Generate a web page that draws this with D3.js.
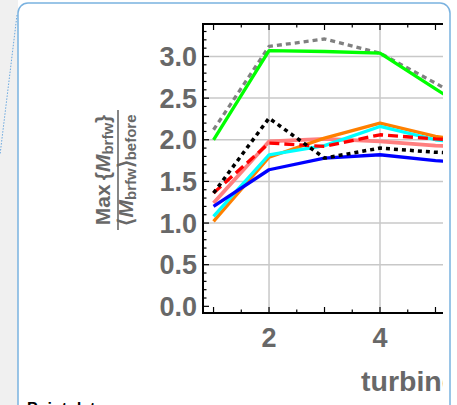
<!DOCTYPE html>
<html><head><meta charset="utf-8">
<script src="https://cdn.jsdelivr.net/npm/d3@7"></script>
<style>body{margin:0;background:#fff;overflow:hidden}</style>
</head><body>
<script>
const xValues = [1, 2, 3, 4, 5, 6];
const grayDotted = [2.12, 3.12, 3.21, 3.04, 2.68, 2.30];
const green = [2.00, 3.07, 3.06, 3.04, 2.61, 2.20];
const pink = [1.24, 1.98, 2.01, 1.98, 1.93, 1.90];
const orange = [1.02, 1.79, 2.02, 2.20, 2.04, 1.95];
const cyan = [1.08, 1.82, 1.93, 2.16, 2.00, 1.92];
const blue = [1.20, 1.64, 1.78, 1.82, 1.75, 1.70];
const redDashed = [1.36, 1.96, 1.92, 2.06, 2.01, 1.98];
const blackDotted = [1.36, 2.26, 1.78, 1.90, 1.85, 1.82];
const yTickLabels = ["0.0", "0.5", "1.0", "1.5", "2.0", "2.5", "3.0"];
const xTickLabels = ["2", "4"];
const xAxisTitle = "turbine";
const bottomText = "Point data";

const series = [
  {v: grayDotted, color: "#808080", w: 3.3, dash: "5,4"},
  {v: green, color: "#00ff00", w: 3.3, dash: null},
  {v: pink, color: "#ff8080", w: 3.8, dash: null},
  {v: orange, color: "#ff8000", w: 3.3, dash: null},
  {v: cyan, color: "#00ffff", w: 3.3, dash: null},
  {v: blue, color: "#0000ff", w: 3.3, dash: null},
  {v: redDashed, color: "#ff0000", w: 3.3, dash: "10,5"},
  {v: blackDotted, color: "#000000", w: 3.5, dash: "4,4"}
];

const W = 457, H = 405;
const svg = d3.select("body").append("svg").attr("width", W).attr("height", H);

// background / panel
svg.append("rect").attr("x", 0).attr("y", 0).attr("width", 18).attr("height", H).attr("fill", "#f0f0f0");
svg.append("rect").attr("x", 18).attr("y", 3).attr("width", 432).attr("height", 430)
  .attr("rx", 10).attr("fill", "#fff").attr("stroke", "#7ab2e0").attr("stroke-width", 1.5);
svg.append("line").attr("x1", 17).attr("y1", 15).attr("x2", 0).attr("y2", 155)
  .attr("stroke", "#6aa8e0").attr("stroke-width", 1).attr("stroke-dasharray", "1.5,1.5");

const L = 203, T = 24, B = 313, CLIPR = 443;
const x = d3.scaleLinear().domain([0.81, 5.13]).range([L, 442.7]);
const y = d3.scaleLinear().domain([-0.08, 3.39]).range([B, T]);

const defs = svg.append("defs");
defs.append("clipPath").attr("id", "clip").append("rect")
  .attr("x", 0).attr("y", 0).attr("width", CLIPR).attr("height", H);
const g = svg.append("g").attr("clip-path", "url(#clip)");

const font = "'Liberation Sans', Arial, sans-serif";
const labelColor = "#686868";

// grid
const yGrid = d3.range(0.5, 3.01, 0.5);
g.selectAll(".hg").data(yGrid).enter().append("line")
  .attr("x1", L).attr("x2", 500).attr("y1", d => y(d)).attr("y2", d => y(d))
  .attr("stroke", "#c8c8c8").attr("stroke-width", 1.5);
g.selectAll(".vg").data([2, 4, 6]).enter().append("line")
  .attr("x1", d => x(d)).attr("x2", d => x(d)).attr("y1", T).attr("y2", B)
  .attr("stroke", "#c8c8c8").attr("stroke-width", 1.5);

// lines
const line = d3.line().x((d, i) => x(xValues[i])).y(d => y(d));
series.forEach(s => {
  const p = g.append("path").datum(s.v).attr("d", line)
    .attr("fill", "none").attr("stroke", s.color).attr("stroke-width", s.w)
    .attr("stroke-linejoin", "round");
  if (s.dash) p.attr("stroke-dasharray", s.dash);
});

// frame
g.append("line").attr("x1", L).attr("x2", 500).attr("y1", T).attr("y2", T).attr("stroke", "#000").attr("stroke-width", 2);
g.append("line").attr("x1", L).attr("x2", 500).attr("y1", B).attr("y2", B).attr("stroke", "#000").attr("stroke-width", 2);
g.append("line").attr("x1", L).attr("x2", L).attr("y1", T - 1).attr("y2", B + 1).attr("stroke", "#000").attr("stroke-width", 2);

// y ticks
const yMinor = d3.range(0, 34).map(i => i / 10);
g.selectAll(".yt").data(yMinor).enter().append("line")
  .attr("x1", L).attr("x2", (d, i) => L + (i % 5 === 0 ? 6 : 3.5))
  .attr("y1", d => y(d)).attr("y2", d => y(d)).attr("stroke", "#000").attr("stroke-width", 1.2);
// x ticks
const xMinor = d3.range(2, 13).map(i => i / 2);
[T, B].forEach((yy, k) => {
  g.selectAll(".xt" + k).data(xMinor).enter().append("line")
    .attr("x1", d => x(d)).attr("x2", d => x(d))
    .attr("y1", yy).attr("y2", d => yy + (k === 0 ? 1 : -1) * (d % 1 === 0 ? 6 : 3.5))
    .attr("stroke", "#000").attr("stroke-width", 1.2);
});

// y tick labels
svg.selectAll(".yl").data(yTickLabels).enter().append("text")
  .attr("x", 197).attr("y", d => y(+d) + 9.7).attr("text-anchor", "end")
  .attr("font-family", font).attr("font-weight", "bold").attr("font-size", 27)
  .attr("fill", labelColor).text(d => d);
// x tick labels
svg.selectAll(".xl").data(xTickLabels).enter().append("text")
  .attr("x", d => x(+d)).attr("y", 346.5).attr("text-anchor", "middle")
  .attr("font-family", font).attr("font-weight", "bold").attr("font-size", 27)
  .attr("fill", labelColor).text(d => d);
// x axis title
g.append("text").attr("x", 361).attr("y", 391)
  .attr("font-family", font).attr("font-weight", "bold").attr("font-size", 28.5)
  .attr("fill", labelColor).text(xAxisTitle);

// y axis label (fraction)
const yl = svg.append("g").attr("transform", "translate(118,170) rotate(-90)");
yl.append("line").attr("x1", -60).attr("x2", 60).attr("y1", 0).attr("y2", 0)
  .attr("stroke", labelColor).attr("stroke-width", 1.6);
const num = yl.append("text").attr("x", 0).attr("y", -8).attr("text-anchor", "middle")
  .attr("font-family", font).attr("font-weight", "bold").attr("font-size", 21).attr("fill", labelColor);
num.append("tspan").text("Max\u2009{");
num.append("tspan").attr("font-style", "italic").text("M");
num.append("tspan").attr("font-size", 15).attr("dy", 3).text("brfw");
num.append("tspan").attr("dy", -3).text("}");
const den = yl.append("text").attr("x", 0).attr("y", 15).attr("text-anchor", "middle")
  .attr("font-family", font).attr("font-weight", "bold").attr("font-size", 21).attr("fill", labelColor);
den.append("tspan").text("\u27E8");
den.append("tspan").attr("font-style", "italic").text("M");
den.append("tspan").attr("font-size", 15).attr("dy", 3).text("brfw");
den.append("tspan").attr("dy", -3).text("\u27E9");
den.append("tspan").attr("font-size", 15).attr("dy", 3).text("before");

// bottom text (partly below the visible area, as in the reference)
svg.append("text").attr("x", 27).attr("y", 414)
  .attr("font-family", font).attr("font-weight", "bold").attr("font-size", 16)
  .attr("fill", "#000").text(bottomText);
</script>
</body></html>
